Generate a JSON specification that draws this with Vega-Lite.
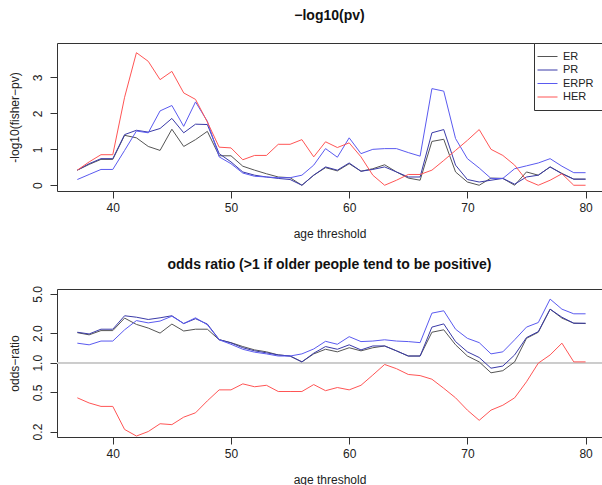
{
  "$schema": "https://vega.github.io/schema/vega-lite/v6.json",
  "background": "white",
  "padding": {"left": 7, "top": 8, "right": 0, "bottom": 0},
  "config": {
    "font": "Liberation Sans",
    "view": {"stroke": "#333333", "strokeWidth": 1},
    "axis": {"domain": false, "grid": false, "tickSize": 7, "tickColor": "#333333", "labelFontSize": 12, "titleFontSize": 12, "titleFontWeight": "normal", "labelColor": "#222222", "titleColor": "#222222", "labelPadding": 4, "titlePadding": 12},
    "axisX": {"titlePadding": 15},
    "axisY": {"labelPadding": 6, "titlePadding": 10},
    "title": {"fontSize": 14, "fontWeight": "bold", "color": "#111111", "anchor": "middle"},
    "line": {"strokeWidth": 1}
  },
  "data": {"values": [
    {"age":37,"s":"ER","pv":0.42,"or":2.02},{"age":37,"s":"PR","pv":0.42,"or":2.04},{"age":37,"s":"ERPR","pv":0.16,"or":1.58},{"age":37,"s":"HER","pv":0.42,"or":0.44},
    {"age":38,"s":"ER","pv":0.58,"or":1.92},{"age":38,"s":"PR","pv":0.60,"or":1.96},{"age":38,"s":"ERPR","pv":0.30,"or":1.52},{"age":38,"s":"HER","pv":0.65,"or":0.39},
    {"age":39,"s":"ER","pv":0.72,"or":2.12},{"age":39,"s":"PR","pv":0.74,"or":2.19},{"age":39,"s":"ERPR","pv":0.44,"or":1.66},{"age":39,"s":"HER","pv":0.85,"or":0.36},
    {"age":40,"s":"ER","pv":0.72,"or":2.12},{"age":40,"s":"PR","pv":0.74,"or":2.19},{"age":40,"s":"ERPR","pv":0.44,"or":1.66},{"age":40,"s":"HER","pv":0.85,"or":0.36},
    {"age":41,"s":"ER","pv":1.39,"or":2.84},{"age":41,"s":"PR","pv":1.41,"or":3.0},{"age":41,"s":"ERPR","pv":0.97,"or":2.16},{"age":41,"s":"HER","pv":2.45,"or":0.21},
    {"age":42,"s":"ER","pv":1.32,"or":2.45},{"age":42,"s":"PR","pv":1.53,"or":2.9},{"age":42,"s":"ERPR","pv":1.51,"or":2.68},{"age":42,"s":"HER","pv":3.69,"or":0.18},
    {"age":43,"s":"ER","pv":1.08,"or":2.25},{"age":43,"s":"PR","pv":1.48,"or":2.75},{"age":43,"s":"ERPR","pv":1.46,"or":2.54},{"age":43,"s":"HER","pv":3.45,"or":0.20},
    {"age":44,"s":"ER","pv":0.97,"or":2.0},{"age":44,"s":"PR","pv":1.58,"or":2.86},{"age":44,"s":"ERPR","pv":2.07,"or":2.65},{"age":44,"s":"HER","pv":2.94,"or":0.24},
    {"age":45,"s":"ER","pv":1.56,"or":2.47},{"age":45,"s":"PR","pv":1.86,"or":3.0},{"age":45,"s":"ERPR","pv":2.22,"or":2.97},{"age":45,"s":"HER","pv":3.17,"or":0.235},
    {"age":46,"s":"ER","pv":1.08,"or":2.1},{"age":46,"s":"PR","pv":1.46,"or":2.5},{"age":46,"s":"ERPR","pv":1.64,"or":2.5},{"age":46,"s":"HER","pv":2.57,"or":0.28},
    {"age":47,"s":"ER","pv":1.27,"or":2.19},{"age":47,"s":"PR","pv":1.70,"or":2.8},{"age":47,"s":"ERPR","pv":2.32,"or":2.86},{"age":47,"s":"HER","pv":2.39,"or":0.31},
    {"age":48,"s":"ER","pv":1.5,"or":2.19},{"age":48,"s":"PR","pv":1.69,"or":2.47},{"age":48,"s":"ERPR","pv":1.78,"or":2.43},{"age":48,"s":"HER","pv":1.76,"or":0.41},
    {"age":49,"s":"ER","pv":0.82,"or":1.71},{"age":49,"s":"PR","pv":0.88,"or":1.72},{"age":49,"s":"ERPR","pv":0.79,"or":1.71},{"age":49,"s":"HER","pv":1.06,"or":0.53},
    {"age":50,"s":"ER","pv":0.82,"or":1.6},{"age":50,"s":"PR","pv":0.65,"or":1.59},{"age":50,"s":"ERPR","pv":0.60,"or":1.54},{"age":50,"s":"HER","pv":1.04,"or":0.53},
    {"age":51,"s":"ER","pv":0.53,"or":1.46},{"age":51,"s":"PR","pv":0.37,"or":1.42},{"age":51,"s":"ERPR","pv":0.34,"or":1.37},{"age":51,"s":"HER","pv":0.71,"or":0.61},
    {"age":52,"s":"ER","pv":0.42,"or":1.35},{"age":52,"s":"PR","pv":0.28,"or":1.32},{"age":52,"s":"ERPR","pv":0.25,"or":1.28},{"age":52,"s":"HER","pv":0.83,"or":0.57},
    {"age":53,"s":"ER","pv":0.32,"or":1.29},{"age":53,"s":"PR","pv":0.23,"or":1.26},{"age":53,"s":"ERPR","pv":0.23,"or":1.23},{"age":53,"s":"HER","pv":0.83,"or":0.59},
    {"age":54,"s":"ER","pv":0.23,"or":1.2},{"age":54,"s":"PR","pv":0.19,"or":1.2},{"age":54,"s":"ERPR","pv":0.21,"or":1.17},{"age":54,"s":"HER","pv":1.14,"or":0.51},
    {"age":55,"s":"ER","pv":0.21,"or":1.17},{"age":55,"s":"PR","pv":0.16,"or":1.17},{"age":55,"s":"ERPR","pv":0.21,"or":1.17},{"age":55,"s":"HER","pv":1.14,"or":0.51},
    {"age":56,"s":"ER","pv":0.0,"or":1.02},{"age":56,"s":"PR","pv":0.0,"or":1.02},{"age":56,"s":"ERPR","pv":0.28,"or":1.23},{"age":56,"s":"HER","pv":1.27,"or":0.51},
    {"age":57,"s":"ER","pv":0.28,"or":1.23},{"age":57,"s":"PR","pv":0.28,"or":1.25},{"age":57,"s":"ERPR","pv":0.56,"or":1.38},{"age":57,"s":"HER","pv":0.79,"or":0.60},
    {"age":58,"s":"ER","pv":0.49,"or":1.37},{"age":58,"s":"PR","pv":0.51,"or":1.46},{"age":58,"s":"ERPR","pv":1.02,"or":1.65},{"age":58,"s":"HER","pv":1.21,"or":0.52},
    {"age":59,"s":"ER","pv":0.40,"or":1.29},{"age":59,"s":"PR","pv":0.42,"or":1.37},{"age":59,"s":"ERPR","pv":0.78,"or":1.54},{"age":59,"s":"HER","pv":1.05,"or":0.56},
    {"age":60,"s":"ER","pv":0.60,"or":1.42},{"age":60,"s":"PR","pv":0.62,"or":1.52},{"age":60,"s":"ERPR","pv":1.32,"or":1.84},{"age":60,"s":"HER","pv":1.18,"or":0.53},
    {"age":61,"s":"ER","pv":0.39,"or":1.32},{"age":61,"s":"PR","pv":0.39,"or":1.35},{"age":61,"s":"ERPR","pv":0.88,"or":1.64},{"age":61,"s":"HER","pv":0.79,"or":0.59},
    {"age":62,"s":"ER","pv":0.46,"or":1.42},{"age":62,"s":"PR","pv":0.44,"or":1.48},{"age":62,"s":"ERPR","pv":1.0,"or":1.66},{"age":62,"s":"HER","pv":0.28,"or":0.75},
    {"age":63,"s":"ER","pv":0.57,"or":1.48},{"age":63,"s":"PR","pv":0.51,"or":1.48},{"age":63,"s":"ERPR","pv":1.02,"or":1.71},{"age":63,"s":"HER","pv":0.0,"or":0.96},
    {"age":64,"s":"ER","pv":0.37,"or":1.32},{"age":64,"s":"PR","pv":0.37,"or":1.32},{"age":64,"s":"ERPR","pv":1.02,"or":1.66},{"age":64,"s":"HER","pv":0.14,"or":0.87},
    {"age":65,"s":"ER","pv":0.20,"or":1.17},{"age":65,"s":"PR","pv":0.23,"or":1.17},{"age":65,"s":"ERPR","pv":0.91,"or":1.64},{"age":65,"s":"HER","pv":0.30,"or":0.76},
    {"age":66,"s":"ER","pv":0.14,"or":1.17},{"age":66,"s":"PR","pv":0.23,"or":1.17},{"age":66,"s":"ERPR","pv":0.81,"or":1.6},{"age":66,"s":"HER","pv":0.30,"or":0.74},
    {"age":67,"s":"ER","pv":1.22,"or":2.04},{"age":67,"s":"PR","pv":1.46,"or":2.3},{"age":67,"s":"ERPR","pv":2.69,"or":3.19},{"age":67,"s":"HER","pv":0.42,"or":0.68},
    {"age":68,"s":"ER","pv":1.28,"or":2.16},{"age":68,"s":"PR","pv":1.55,"or":2.48},{"age":68,"s":"ERPR","pv":2.62,"or":3.37},{"age":68,"s":"HER","pv":0.69,"or":0.55},
    {"age":69,"s":"ER","pv":0.37,"or":1.52},{"age":69,"s":"PR","pv":0.56,"or":1.64},{"age":69,"s":"ERPR","pv":1.30,"or":2.19},{"age":69,"s":"HER","pv":0.97,"or":0.44},
    {"age":70,"s":"ER","pv":0.09,"or":1.17},{"age":70,"s":"PR","pv":0.16,"or":1.29},{"age":70,"s":"ERPR","pv":0.74,"or":1.77},{"age":70,"s":"HER","pv":1.25,"or":0.33},
    {"age":71,"s":"ER","pv":0.0,"or":1.02},{"age":71,"s":"PR","pv":0.09,"or":1.13},{"age":71,"s":"ERPR","pv":0.48,"or":1.6},{"age":71,"s":"HER","pv":1.55,"or":0.26},
    {"age":72,"s":"ER","pv":0.20,"or":0.79},{"age":72,"s":"PR","pv":0.14,"or":0.88},{"age":72,"s":"ERPR","pv":0.19,"or":1.23},{"age":72,"s":"HER","pv":1.0,"or":0.33},
    {"age":73,"s":"ER","pv":0.19,"or":0.83},{"age":73,"s":"PR","pv":0.19,"or":0.925},{"age":73,"s":"ERPR","pv":0.19,"or":1.29},{"age":73,"s":"HER","pv":0.83,"or":0.37},
    {"age":74,"s":"ER","pv":0.0,"or":1.02},{"age":74,"s":"PR","pv":0.03,"or":1.2},{"age":74,"s":"ERPR","pv":0.46,"or":1.71},{"age":74,"s":"HER","pv":0.56,"or":0.44},
    {"age":75,"s":"ER","pv":0.37,"or":1.77},{"age":75,"s":"PR","pv":0.23,"or":1.8},{"age":75,"s":"ERPR","pv":0.54,"or":2.3},{"age":75,"s":"HER","pv":0.14,"or":0.64},
    {"age":76,"s":"ER","pv":0.28,"or":2.04},{"age":76,"s":"PR","pv":0.28,"or":2.07},{"age":76,"s":"ERPR","pv":0.62,"or":2.56},{"age":76,"s":"HER","pv":0.0,"or":0.99},
    {"age":77,"s":"ER","pv":0.51,"or":3.5},{"age":77,"s":"PR","pv":0.51,"or":3.5},{"age":77,"s":"ERPR","pv":0.74,"or":4.43},{"age":77,"s":"HER","pv":0.14,"or":1.2},
    {"age":78,"s":"ER","pv":0.33,"or":2.84},{"age":78,"s":"PR","pv":0.32,"or":2.9},{"age":78,"s":"ERPR","pv":0.53,"or":3.5},{"age":78,"s":"HER","pv":0.32,"or":1.58},
    {"age":79,"s":"ER","pv":0.17,"or":2.52},{"age":79,"s":"PR","pv":0.17,"or":2.52},{"age":79,"s":"ERPR","pv":0.35,"or":3.14},{"age":79,"s":"HER","pv":0.0,"or":1.02},
    {"age":80,"s":"ER","pv":0.17,"or":2.5},{"age":80,"s":"PR","pv":0.17,"or":2.52},{"age":80,"s":"ERPR","pv":0.35,"or":3.14},{"age":80,"s":"HER","pv":0.0,"or":1.02}
  ]},
  "spacing": 17,
  "resolve": {"scale": {"color": "independent"}},
  "vconcat": [
    {
      "width": 545,
      "height": 148,
      "title": {"text": "−log10(pv)", "offset": 20},
      "mark": {"type": "line", "strokeWidth": 1},
      "encoding": {
        "x": {"field": "age", "type": "quantitative", "scale": {"domain": [35.28, 81.39], "nice": false, "zero": false}, "axis": {"values": [40, 50, 60, 70, 80], "title": "age threshold"}},
        "y": {"field": "pv", "type": "quantitative", "scale": {"domain": [-0.16, 3.96], "nice": false, "zero": false}, "axis": {"values": [0, 1, 2, 3], "title": "-log10(fisher−pv)", "labelAngle": -90}},
        "color": {"field": "s", "type": "nominal", "scale": {"domain": ["ER", "PR", "ERPR", "HER"], "range": ["#555555", "#3a3aa8", "#5a5af0", "#ff5555"]},
          "legend": {"title": null, "orient": "top-right", "offset": 0, "strokeColor": "#333333", "padding": 8, "symbolType": "M-2,0H2", "symbolSize": 100, "symbolStrokeWidth": 1.2, "labelFontSize": 11, "labelOffset": 10, "labelColor": "#222222", "rowPadding": 1.5, "fillColor": "white"}
        }
      }
    },
    {
      "width": 545,
      "height": 148,
      "title": {"text": "odds ratio (>1 if older people tend to be positive)", "offset": 14},
      "layer": [
        {"mark": {"type": "rule", "color": "#cccccc", "strokeWidth": 1}, "encoding": {"y": {"datum": 1}}},
        {
          "mark": {"type": "line", "strokeWidth": 1},
          "encoding": {
            "x": {"field": "age", "type": "quantitative", "scale": {"domain": [35.28, 81.39], "nice": false, "zero": false}, "axis": {"values": [40, 50, 60, 70, 80], "title": "age threshold"}},
            "y": {"field": "or", "type": "quantitative", "scale": {"type": "log", "domain": [0.176, 5.61], "nice": false}, "axis": {"values": [0.2, 0.5, 1, 2, 5], "format": ".1f", "title": "odds−ratio", "labelAngle": -90}},
            "color": {"field": "s", "type": "nominal", "scale": {"domain": ["ER", "PR", "ERPR", "HER"], "range": ["#555555", "#3a3aa8", "#5a5af0", "#ff5555"]}, "legend": null}
          }
        }
      ]
    }
  ]
}
